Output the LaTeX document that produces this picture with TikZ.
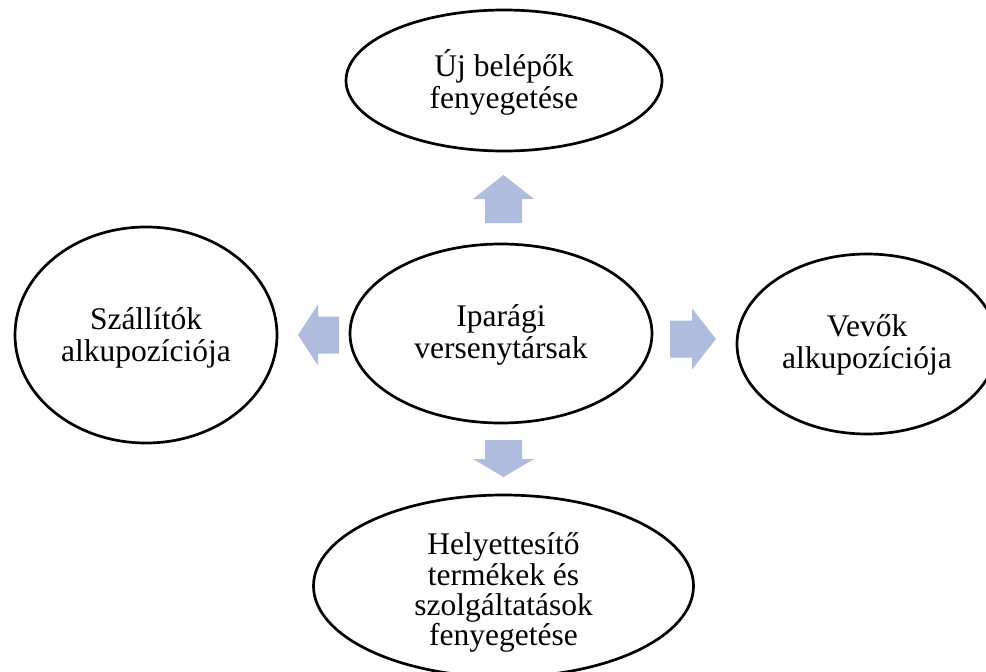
\documentclass[tikz,border=0pt]{standalone}
\usepackage{fontspec}
\setmainfont{Liberation Serif}
\usetikzlibrary{shapes.geometric}

\definecolor{arrowblue}{RGB}{176,188,221}

% centred stack of lines, each row carrying a strut
\newcommand{\forcelines}[1]{\begin{tabular}{@{}c@{}}#1\end{tabular}}

\tikzset{
  force/.style={ellipse, draw=black, line width=2.7pt, inner sep=0pt},
  forcetext/.style={inner sep=0pt, font=\fontsize{31.5}{32}\selectfont},
  arrowfill/.style={fill=arrowblue},
  % block arrow pointing along +x: #1 = total length, #2 = head length
  pics/blockarrow/.style 2 args={code={
    \fill[arrowfill] (0,-18.5) -- ({#1-#2},-18.5) -- ({#1-#2},-30.5) -- (#1,0)
      -- ({#1-#2},30.5) -- ({#1-#2},18.5) -- (0,18.5) -- cycle;
  }}
}

\begin{document}
\begin{tikzpicture}[x=1pt, y=-1pt]
  \clip (0,0) rectangle (986,672);
  \fill[white] (0,0) rectangle (986,672);

  % the five forces
  \node[force, minimum width=316pt, minimum height=141pt] (entrants) at (504,80.5) {};
  \node[force, minimum width=302pt, minimum height=179pt] (rivals) at (501,333.5) {};
  \node[force, minimum width=262pt, minimum height=216pt] (suppliers) at (146,335) {};
  \node[force, minimum width=260pt, minimum height=180pt] (buyers) at (867,344) {};
  \node[force, minimum width=380pt, minimum height=182pt] (substitutes) at (503.5,586) {};

  % their captions
  \node[forcetext] (entrants-txt) at ([yshift=-3.5pt]entrants.center)
    {\forcelines{Új belépők\\fenyegetése}};
  \node[forcetext] (rivals-txt) at ([yshift=-2.5pt]rivals.center)
    {\forcelines{Iparági\\versenytársak}};
  \node[forcetext] (suppliers-txt) at ([yshift=-4.5pt]suppliers.center)
    {\forcelines{Szállítók\\alkupozíciója}};
  \node[forcetext] (buyers-txt) at ([yshift=-2pt]buyers.center)
    {\forcelines{Vevők\\alkupozíciója}};
  \node[forcetext, font=\fontsize{31.5}{27.7}\selectfont] (substitutes-txt)
    at ([yshift=-7.5pt]substitutes.center)
    {\forcelines{Helyettesítő\\termékek és\\szolgáltatások\\fenyegetése}};

  % block arrows radiating from the centre
  \pic[rotate=90]  at (503.5,223) {blockarrow={48}{24}};
  \pic[rotate=180] at (339,335)   {blockarrow={41}{20}};
  \pic             at (670,339)   {blockarrow={46}{24}};
  \pic[rotate=-90] at (503.5,440) {blockarrow={37}{18}};
\end{tikzpicture}
\end{document}
